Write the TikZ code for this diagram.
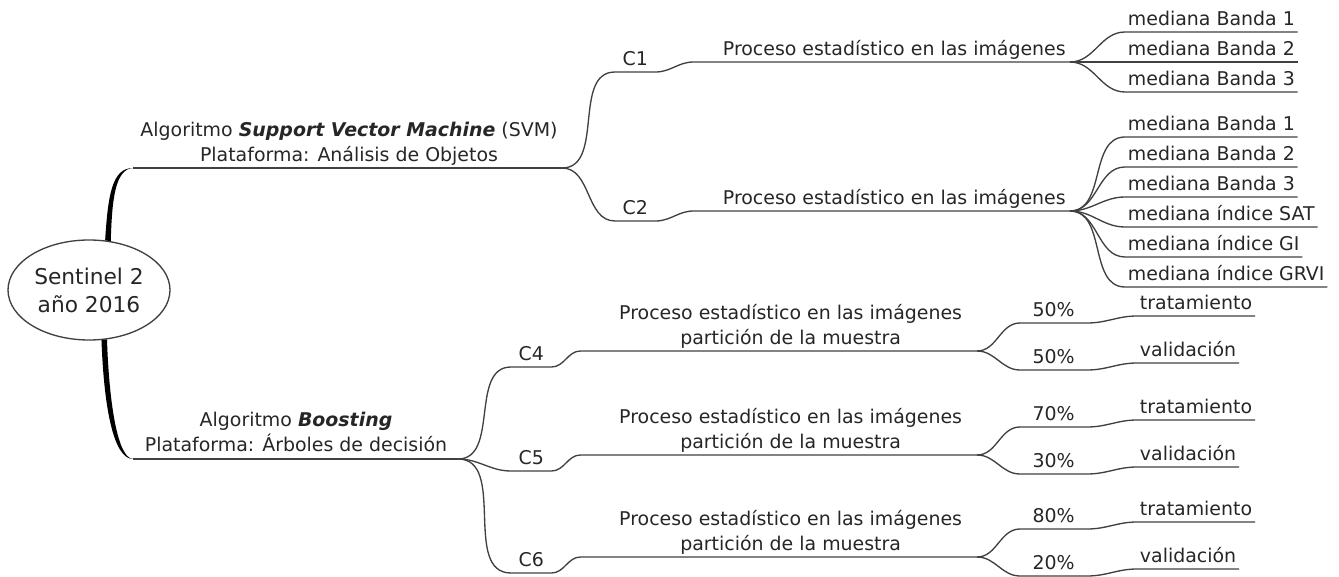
\documentclass[tikz,border=0pt]{standalone}
\usepackage{fontspec}
\setmainfont{DejaVu Sans}
\usetikzlibrary{shapes.geometric}

\begin{document}
\begin{tikzpicture}[x = 0.75pt, y = -0.75pt,
    every node/.style = {inner sep = 0pt, text = black!85,
        font = \fontsize{14.2}{18.75}\selectfont},
    branch/.style = {draw = black!75, line width = 1pt},
    ul/.style = {anchor = south west, text depth = 0pt, inner xsep = 2pt, inner ysep = 4.5pt},
    cnode/.style = {ul, minimum width = 30pt},
    pct/.style = {ul, minimum width = 50pt}]
    \useasboundingbox (0,0) rectangle (1339,577);

    % tema central
    \node[ellipse, draw = black!75, line width = 1pt, minimum width = 121.5pt,
          minimum height = 75pt, align = center, font = \fontsize{16.3}{21}\selectfont]
        (root) at (89,290) {Sentinel 2\\año 2016};

    % algoritmos
    \coordinate (svmA) at (133,168);
    \coordinate (svmB) at (562,168);
    \coordinate (bstA) at (133,459);
    \coordinate (bstB) at (458,459);
    \node[anchor = south, align = center, inner ysep = 1.5pt] (svm) at (349,168)
        {Algoritmo \textbf{\textit{Support Vector Machine}} (SVM)\\Plataforma: Análisis de Objetos};
    \node[anchor = south, align = center, inner ysep = 5pt] (bst) at (296,459)
        {Algoritmo \textbf{\textit{Boosting}}\\Plataforma: Árboles de decisión};
    \fill[black] (root.72) .. controls (108,195) and (112,168) .. (svmA)
        .. controls (115,169) and (112,200) .. (root.66) -- cycle;
    \fill[black] (root.-76) .. controls (104,410) and (114,459) .. (bstA)
        .. controls (117,458) and (109,400) .. (root.-70) -- cycle;
    \draw[branch] (svmA) -- (svmB);
    \draw[branch] (bstA) -- (bstB);

    % SVM: C1 y C2
    \foreach \n/\y in {1/72, 2/221} {
        \node[cnode] (c\n) at (615,\y) {C\n};
        \node[ul, anchor = south east, inner xsep = 3pt] (p\n) at (1070,\y-10)
            {Proceso estadístico en las imágenes};
        \draw[branch] (svmB) to[out = 0, in = 180] (c\n.south west) -- (c\n.south east)
            to[out = 0, in = 180] ++(38,-10) -- (p\n.south east);
    }
    \foreach \t [count = \i] in {mediana Banda 1, mediana Banda 2, mediana Banda 3} {
        \node[ul] (ma\i) at (1125,2+30*\i) {\t};
        \draw[branch] (p1.south east) to[out = 0, in = 180] (ma\i.south west) -- (ma\i.south east);
    }
    \foreach \t [count = \i] in {mediana Banda 1, mediana Banda 2, mediana Banda 3,
            mediana índice SAT, mediana índice GI, mediana índice GRVI} {
        \node[ul] (mb\i) at (1125,107+30*\i) {\t};
        \draw[branch] (p2.south east) to[out = 0, in = 180] (mb\i.south west) -- (mb\i.south east);
    }

    % Boosting: C4, C5 y C6
    \foreach \n/\y/\a/\b in {4/367/50/50, 5/471/70/30, 6/573/80/20} {
        \node[cnode] (c\n) at (511,\y) {C\n};
        \node[anchor = south east, align = center, inner xsep = 11pt, inner ysep = 1.5pt]
            (p\n) at (977,\y-16) {Proceso estadístico en las imágenes\\partición de la muestra};
        \node[pct] (u\n) at (1020,\y-44) {\a\%};
        \node[pct] (d\n) at (1020,\y+3) {\b\%};
        \node[ul] (t\n) at (1137,\y-51) {tratamiento};
        \node[ul] (v\n) at (1137,\y-4) {validación};
        \draw[branch] (bstB) to[out = 0, in = 180] (c\n.south west) -- (c\n.south east)
            to[out = 0, in = 180] ++(29,-16) -- (p\n.south east);
        \draw[branch] (p\n.south east) to[out = 0, in = 180] (u\n.south west) -- (u\n.south east)
            to[out = 0, in = 180] (t\n.south west) -- (t\n.south east);
        \draw[branch] (p\n.south east) to[out = 0, in = 180] (d\n.south west) -- (d\n.south east)
            to[out = 0, in = 180] (v\n.south west) -- (v\n.south east);
    }
\end{tikzpicture}
\end{document}
